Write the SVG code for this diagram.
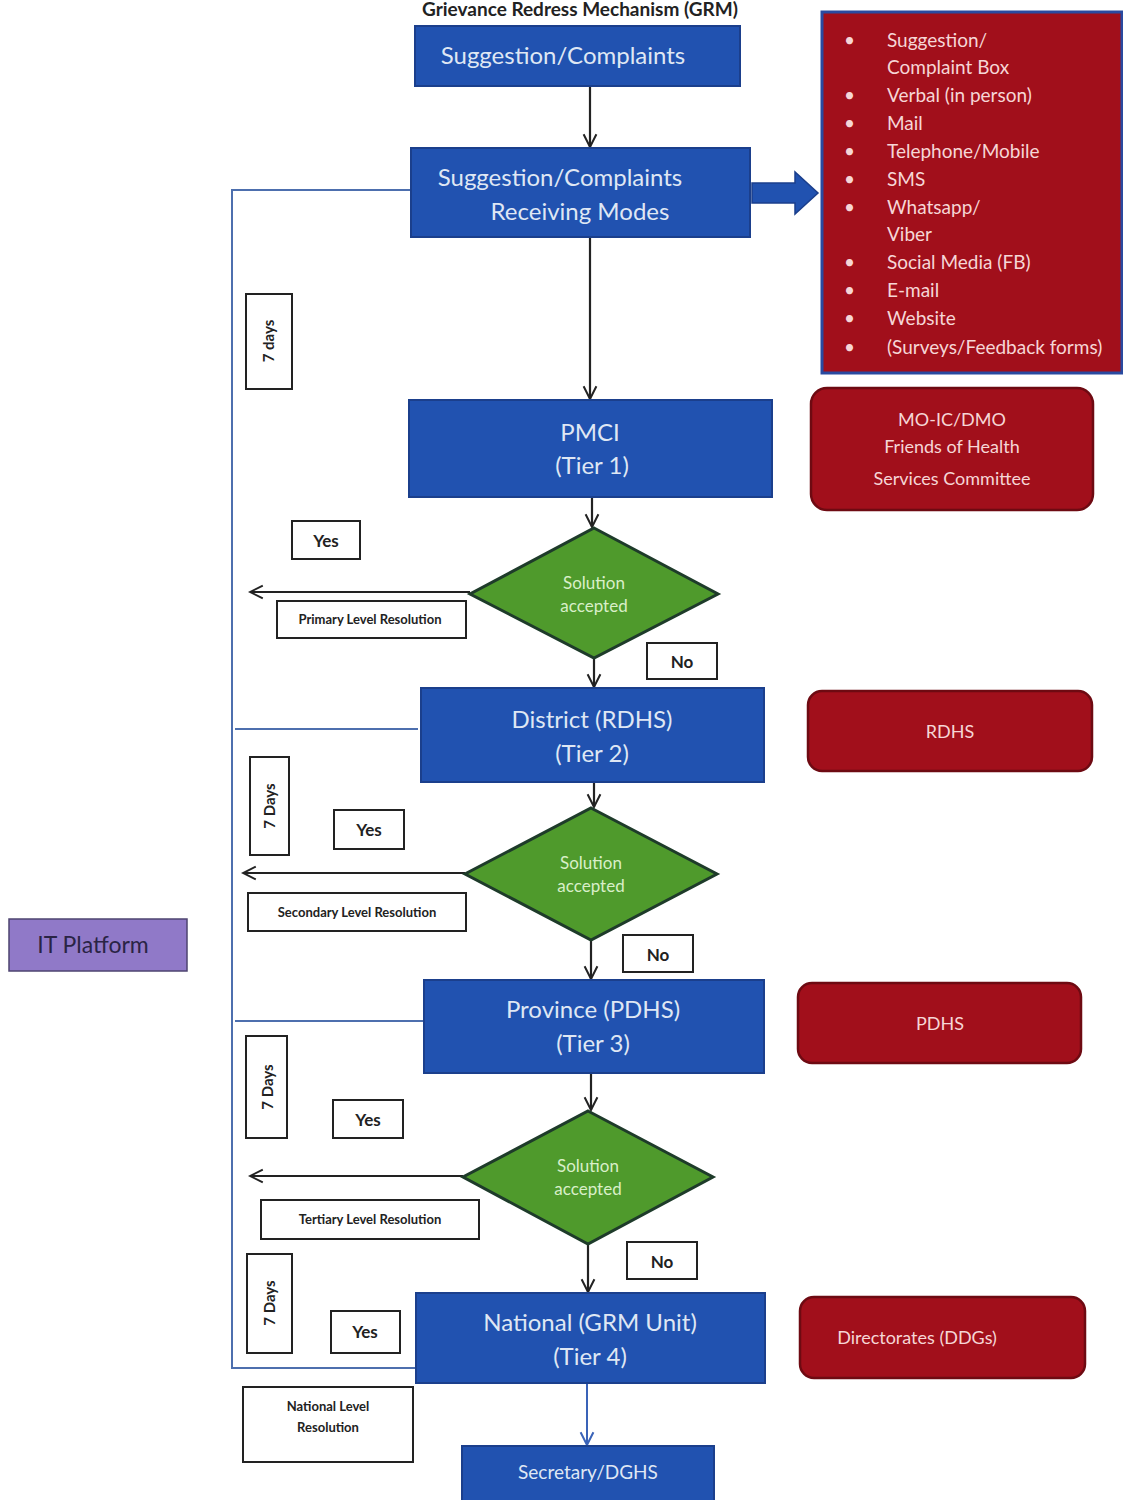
<svg xmlns="http://www.w3.org/2000/svg" width="1123" height="1500" viewBox="0 0 1123 1500">
<defs>
<style>
.bg{fill:#ffffff}
.blue{fill:#2152b0;stroke:#1b3f8c;stroke-width:2}
.bt{font-family:Lato,"Open Sans",sans-serif;font-size:24px;fill:#dfe7f4;text-anchor:middle}
.red{fill:#a10f1b;stroke:#6e0a12;stroke-width:2.5}
.rt{font-family:Lato,"Open Sans",sans-serif;font-size:19px;fill:#f6d6d6}
.rtc{font-family:Lato,"Open Sans",sans-serif;font-size:18px;fill:#f6d6d6;text-anchor:middle}
.dia{fill:#4f9a2c;stroke:#1e3b2a;stroke-width:3}
.dt{font-family:Lato,"Open Sans",sans-serif;font-size:17px;fill:#d9efc9;text-anchor:middle}
.wb{fill:#ffffff;stroke:#222;stroke-width:2}
.wt{font-family:Lato,"Open Sans",sans-serif;font-size:17px;font-weight:bold;fill:#222;text-anchor:middle}
.st{font-family:Lato,"Open Sans",sans-serif;font-size:13px;font-weight:bold;fill:#222;text-anchor:middle}
.vt{font-family:Lato,"Open Sans",sans-serif;font-size:15px;font-weight:bold;fill:#222;text-anchor:middle}
.arr{stroke:#222;stroke-width:2.2;fill:none}
.frame{stroke:#4d6fae;stroke-width:2;fill:none}
</style>
<marker id="ah" viewBox="0 0 20 20" refX="18" refY="10" markerWidth="16" markerHeight="16" markerUnits="userSpaceOnUse" orient="auto">
<path d="M2,2 L18,10 L2,18" fill="none" stroke="#222" stroke-width="2.5"/>
</marker>
<marker id="ahb" viewBox="0 0 20 20" refX="18" refY="10" markerWidth="16" markerHeight="16" markerUnits="userSpaceOnUse" orient="auto">
<path d="M2,2 L18,10 L2,18" fill="none" stroke="#3a63b8" stroke-width="2.5"/>
</marker>
</defs>
<rect class="bg" x="0" y="0" width="1123" height="1500"/>

<text x="580" y="16" font-family="Lato,'Open Sans',sans-serif" font-size="19" font-weight="bold" fill="#222" text-anchor="middle">Grievance Redress Mechanism (GRM)</text>

<g id="connectors">
<path class="frame" d="M411,190 H232 V1368 H416"/>
<path class="frame" d="M235,729 H418"/>
<path class="frame" d="M235,1021 H424"/>
<line class="arr" x1="590" y1="86" x2="590" y2="147" marker-end="url(#ah)"/>
<line class="arr" x1="590" y1="237" x2="590" y2="399" marker-end="url(#ah)"/>
<line class="arr" x1="592" y1="497" x2="592" y2="527" marker-end="url(#ah)"/>
<line class="arr" x1="470" y1="592" x2="250" y2="592" marker-end="url(#ah)"/>
<line class="arr" x1="594" y1="658" x2="594" y2="687" marker-end="url(#ah)"/>
<line class="arr" x1="594" y1="782" x2="594" y2="807" marker-end="url(#ah)"/>
<line class="arr" x1="465" y1="873" x2="243" y2="873" marker-end="url(#ah)"/>
<line class="arr" x1="591" y1="940" x2="591" y2="979" marker-end="url(#ah)"/>
<line class="arr" x1="591" y1="1073" x2="591" y2="1110" marker-end="url(#ah)"/>
<line class="arr" x1="463" y1="1176" x2="250" y2="1176" marker-end="url(#ah)"/>
<line class="arr" x1="588" y1="1244" x2="588" y2="1292" marker-end="url(#ah)"/>
<line x1="587" y1="1383" x2="587" y2="1445" stroke="#3a63b8" stroke-width="2" marker-end="url(#ahb)"/>
<path d="M752,183 H795 V172 L818,193 L795,214 V203 H752 Z" fill="#2152b0" stroke="#1b3f8c" stroke-width="1.5"/>
</g>

<g id="n-suggestion">
<rect class="blue" x="415" y="26" width="325" height="60"/>
<text class="bt" x="563" y="64">Suggestion/Complaints</text>
</g>

<g id="n-receiving">
<rect class="blue" x="411" y="148" width="339" height="89"/>
<text class="bt" x="560" y="186">Suggestion/Complaints</text>
<text class="bt" x="580" y="220">Receiving Modes</text>
</g>

<g id="n-modes">
<rect x="822" y="12" width="300" height="361" fill="#a10f1b" stroke="#2a4aa0" stroke-width="3"/>
<g class="rt">
<text x="844" y="47">•</text><text x="887" y="47">Suggestion/</text>
<text x="887" y="74">Complaint Box</text>
<text x="844" y="102">•</text><text x="887" y="102">Verbal (in person)</text>
<text x="844" y="130">•</text><text x="887" y="130">Mail</text>
<text x="844" y="158">•</text><text x="887" y="158">Telephone/Mobile</text>
<text x="844" y="186">•</text><text x="887" y="186">SMS</text>
<text x="844" y="214">•</text><text x="887" y="214">Whatsapp/</text>
<text x="887" y="241">Viber</text>
<text x="844" y="269">•</text><text x="887" y="269">Social Media (FB)</text>
<text x="844" y="297">•</text><text x="887" y="297">E-mail</text>
<text x="844" y="325">•</text><text x="887" y="325">Website</text>
<text x="844" y="354">•</text><text x="887" y="354">(Surveys/Feedback forms)</text>
</g>
</g>

<g id="n-7days-1">
<rect class="wb" x="246" y="294" width="46" height="95"/>
<text class="vt" transform="translate(274,341) rotate(-90)">7 days</text>
</g>

<g id="n-pmci">
<rect class="blue" x="409" y="400" width="363" height="97"/>
<text class="bt" x="590" y="441">PMCI</text>
<text class="bt" x="592" y="474">(Tier 1)</text>
</g>

<g id="n-moic">
<rect class="red" x="811" y="388" width="282" height="122" rx="16"/>
<text class="rtc" x="952" y="426">MO-IC/DMO</text>
<text class="rtc" x="952" y="453">Friends of Health</text>
<text class="rtc" x="952" y="485">Services Committee</text>
</g>

<g id="n-yes-1">
<rect class="wb" x="292" y="521" width="68" height="38"/>
<text class="wt" x="326" y="547">Yes</text>
</g>

<g id="n-dec-1">
<polygon class="dia" points="594,528 718,594 594,658 470,594"/>
<text class="dt" x="594" y="589">Solution</text>
<text class="dt" x="594" y="612">accepted</text>
</g>

<g id="n-primary">
<rect class="wb" x="277" y="601" width="189" height="37"/>
<text class="st" x="370" y="624">Primary Level Resolution</text>
</g>

<g id="n-no-1">
<rect class="wb" x="647" y="643" width="70" height="36"/>
<text class="wt" x="682" y="668">No</text>
</g>

<g id="n-district">
<rect class="blue" x="421" y="688" width="343" height="94"/>
<text class="bt" x="592" y="728">District (RDHS)</text>
<text class="bt" x="592" y="762">(Tier 2)</text>
</g>

<g id="n-rdhs">
<rect class="red" x="808" y="691" width="284" height="80" rx="14"/>
<text class="rtc" x="950" y="738">RDHS</text>
</g>

<g id="n-7days-2">
<rect class="wb" x="250" y="757" width="39" height="98"/>
<text class="vt" transform="translate(275,806) rotate(-90)">7 Days</text>
</g>

<g id="n-yes-2">
<rect class="wb" x="334" y="810" width="70" height="39"/>
<text class="wt" x="369" y="836">Yes</text>
</g>

<g id="n-dec-2">
<polygon class="dia" points="591,808 717,874 591,940 465,874"/>
<text class="dt" x="591" y="869">Solution</text>
<text class="dt" x="591" y="892">accepted</text>
</g>

<g id="n-secondary">
<rect class="wb" x="248" y="893" width="218" height="38"/>
<text class="st" x="357" y="917">Secondary Level Resolution</text>
</g>

<g id="n-no-2">
<rect class="wb" x="623" y="935" width="70" height="37"/>
<text class="wt" x="658" y="961">No</text>
</g>

<g id="n-itplatform">
<rect x="9" y="919" width="178" height="52" fill="#9079c8" stroke="#4e4470" stroke-width="1.5"/>
<text x="93" y="953" font-family="Lato,'Open Sans',sans-serif" font-size="23" fill="#2a2445" text-anchor="middle">IT Platform</text>
</g>

<g id="n-province">
<rect class="blue" x="424" y="980" width="340" height="93"/>
<text class="bt" x="593" y="1018">Province (PDHS)</text>
<text class="bt" x="593" y="1052">(Tier 3)</text>
</g>

<g id="n-pdhs">
<rect class="red" x="798" y="983" width="283" height="80" rx="14"/>
<text class="rtc" x="940" y="1030">PDHS</text>
</g>

<g id="n-7days-3">
<rect class="wb" x="246" y="1036" width="41" height="102"/>
<text class="vt" transform="translate(273,1087) rotate(-90)">7 Days</text>
</g>

<g id="n-yes-3">
<rect class="wb" x="333" y="1100" width="70" height="38"/>
<text class="wt" x="368" y="1126">Yes</text>
</g>

<g id="n-dec-3">
<polygon class="dia" points="588,1111 713,1177 588,1244 463,1177"/>
<text class="dt" x="588" y="1172">Solution</text>
<text class="dt" x="588" y="1195">accepted</text>
</g>

<g id="n-tertiary">
<rect class="wb" x="261" y="1200" width="218" height="39"/>
<text class="st" x="370" y="1224">Tertiary Level Resolution</text>
</g>

<g id="n-no-3">
<rect class="wb" x="627" y="1242" width="70" height="37"/>
<text class="wt" x="662" y="1268">No</text>
</g>

<g id="n-7days-4">
<rect class="wb" x="247" y="1254" width="45" height="99"/>
<text class="vt" transform="translate(275,1303) rotate(-90)">7 Days</text>
</g>

<g id="n-yes-4">
<rect class="wb" x="331" y="1311" width="69" height="42"/>
<text class="wt" x="365" y="1338">Yes</text>
</g>

<g id="n-national">
<rect class="blue" x="416" y="1293" width="349" height="90"/>
<text class="bt" x="590" y="1331">National (GRM Unit)</text>
<text class="bt" x="590" y="1365">(Tier 4)</text>
</g>

<g id="n-directorates">
<rect class="red" x="800" y="1297" width="285" height="81" rx="14"/>
<text class="rtc" x="917" y="1344">Directorates (DDGs)</text>
</g>

<g id="n-national-res">
<rect class="wb" x="243" y="1387" width="170" height="75"/>
<text class="st" x="328" y="1411">National Level</text>
<text class="st" x="328" y="1432">Resolution</text>
</g>

<g id="n-secretary">
<rect class="blue" x="462" y="1446" width="252" height="60"/>
<text x="588" y="1479" font-family="Lato,'Open Sans',sans-serif" font-size="19" fill="#dfe7f4" text-anchor="middle">Secretary/DGHS</text>
</g>
</svg>
